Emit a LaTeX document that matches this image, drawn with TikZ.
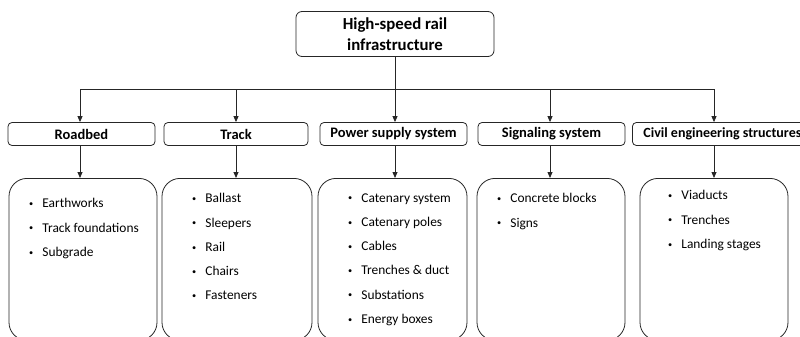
\documentclass[tikz,border=0pt]{standalone}
\usepackage{fontspec}
\usepackage{graphicx}
\setmainfont{Carlito}
\usetikzlibrary{arrows.meta}
\begin{document}
\begin{tikzpicture}[x=1pt,y=-1pt,line width=0.8pt,draw=black!85,
  titlebox/.style={draw,rounded corners=6pt,minimum width=198pt,minimum height=45pt,inner sep=0pt,align=center,font=\bfseries\fontsize{16.8}{21}\selectfont},
  headbox/.style={draw,rounded corners=4pt,minimum height=23pt,inner sep=0pt,font=\bfseries\fontsize{14.5}{16}\selectfont},
  listbox/.style={draw,rounded corners=18pt,minimum width=148pt,minimum height=162pt,anchor=north,inner sep=0pt},
  listtext/.style={anchor=north west,align=left,inner sep=0pt,font=\fontsize{13.4}{24.3}\selectfont},
  arr/.style={-{Triangle[length=6pt,width=5pt]}}]
\useasboundingbox (0,0) rectangle (800,337);
\newcommand{\itm}{\makebox[14pt][l]{\hspace*{0.8pt}\raisebox{1.3pt}{\scalebox{0.62}{\textbullet}}}}
% top
\node[titlebox] (top) at (395,34) {High-speed rail\\infrastructure};
% level 2
\node[headbox,minimum width=147pt] (h1) at (81.5,134) {Roadbed};
\node[headbox,minimum width=144pt] (h2) at (236,134) {Track};
\node[headbox,minimum width=147pt] (h3) at (393.5,134) {Power supply system};
\node[headbox,minimum width=147pt] (h4) at (551.5,134) {Signaling system};
\node[headbox,minimum width=176pt,anchor=west] (h5) at (632,134) {\hspace*{4pt}{\fontsize{14}{16}\selectfont Civil engineering structures}\hfill};
% bus
\coordinate (b1) at (80,89);
\coordinate (b2) at (236,89);
\coordinate (b3) at (395,89);
\coordinate (b4) at (550,89);
\coordinate (b5) at (714,89);
\draw (top.south -| b3) -- (b3);
\draw (b1) -- (b5);
\draw[arr] (b1) -- (b1 |- h1.north);
\draw[arr] (b2) -- (b2 |- h2.north);
\draw[arr] (b3) -- (b3 |- h3.north);
\draw[arr] (b4) -- (b4 |- h4.north);
\draw[arr] (b5) -- (b5 |- h5.north);
% level 3
\node[listbox] (l1) at (83,178) {};
\node[listbox,minimum width=150pt] (l2) at (237,178) {};
\node[listbox,minimum width=149pt] (l3) at (392.5,178) {};
\node[listbox] (l4) at (551,178) {};
\node[listbox] (l5) at (714,178) {};
\draw[arr] (h1.south -| b1) -- (l1.north -| b1);
\draw[arr] (h2.south -| b2) -- (l2.north -| b2);
\draw[arr] (h3.south -| b3) -- (l3.north -| b3);
\draw[arr] (h4.south -| b4) -- (l4.north -| b4);
\draw[arr] (h5.south -| b5) -- (l5.north -| b5);
% lists
\node[listtext] (t1) at (28,198) {\itm Earthworks\\\itm Track foundations\\\itm Subgrade};
\node[listtext] (t2) at (191,193) {\itm Ballast\\\itm Sleepers\\\itm Rail\\\itm Chairs\\\itm Fasteners};
\node[listtext] (t3) at (347,193) {\itm Catenary system\\\itm Catenary poles\\\itm Cables\\\itm Trenches \& duct\\\itm Substations\\\itm Energy boxes};
\node[listtext] (t4) at (496,193) {\itm Concrete blocks\\\itm Signs};
\node[listtext] (t5) at (667,190) {\itm Viaducts\\\itm Trenches\\\itm Landing stages};
\end{tikzpicture}
\end{document}
